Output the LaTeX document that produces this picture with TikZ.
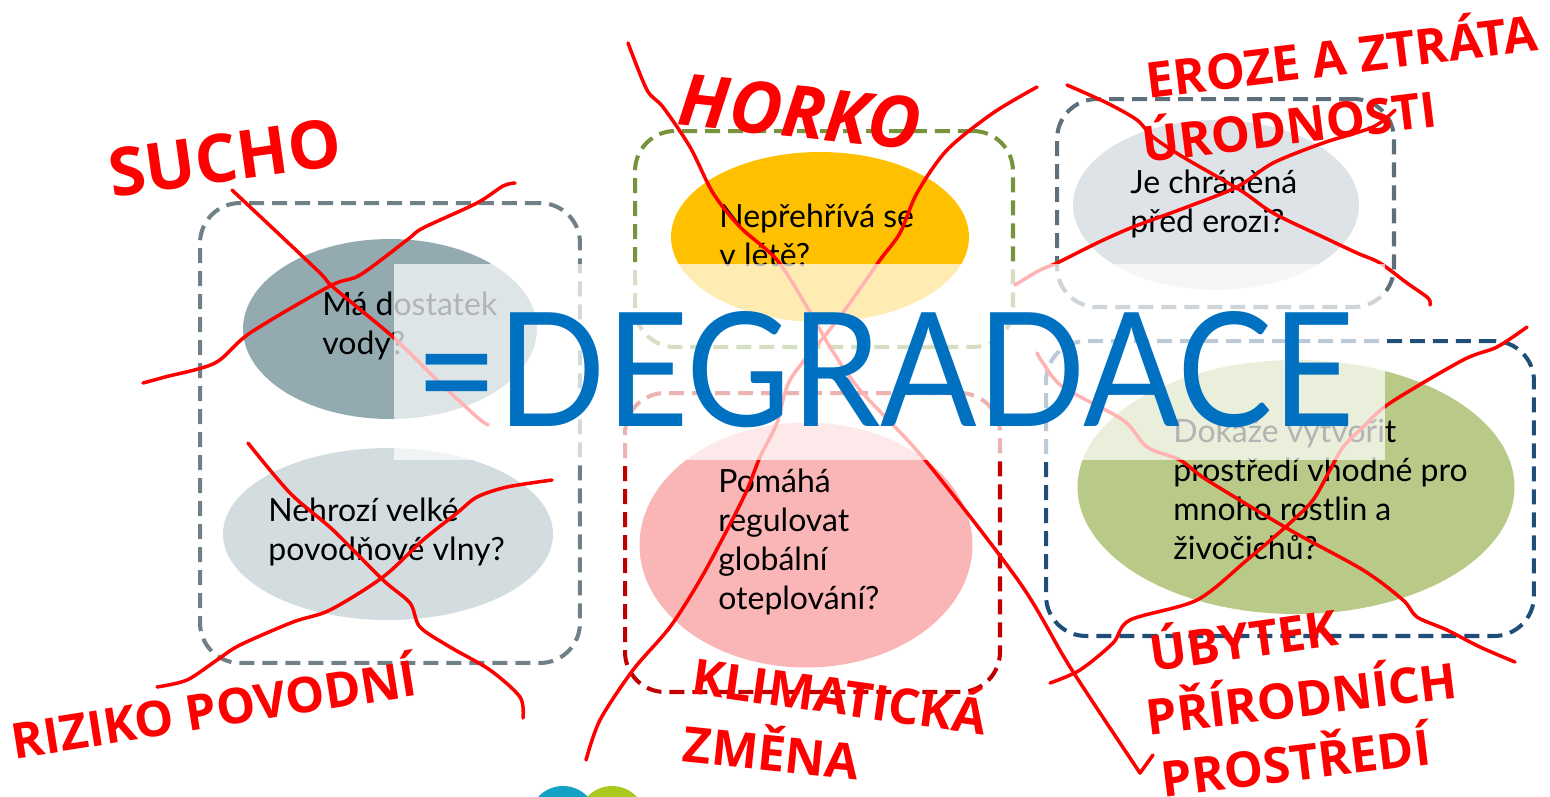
\documentclass[tikz,border=0pt]{standalone}
\usepackage{fontspec}
\usepackage{graphicx}
\setmainfont{Lato}
\newfontfamily\tagfont{Open Sans}
\usetikzlibrary{shapes.geometric}

\definecolor{grayL}{HTML}{6F8087}
\definecolor{grayR}{HTML}{5C6F7B}
\definecolor{oliveB}{HTML}{77933C}
\definecolor{redB}{HTML}{C00000}
\definecolor{navyB}{HTML}{1F4E79}
\definecolor{vodaE}{HTML}{93AAB1}
\definecolor{vlnyE}{HTML}{D3DDE0}
\definecolor{letoE}{HTML}{FFC000}
\definecolor{klimaE}{HTML}{FAB6B6}
\definecolor{erozeE}{HTML}{DDE3E7}
\definecolor{zivotE}{HTML}{B9CA88}
\definecolor{degBlue}{HTML}{0070C0}
\definecolor{logoC}{HTML}{14A1C6}
\definecolor{logoG}{HTML}{A9C91F}

\tikzset{
  qbox/.style={draw=#1, rounded corners=0.8cm, line width=2.3pt, dash pattern=on 0.3cm off 0.16cm, inner sep=0pt, outer sep=0pt},
  blob/.style={ellipse, fill=#1, inner sep=0pt, outer sep=0pt},
  ask/.style={anchor=west, align=left, inner sep=0pt, font=\fontsize{18.2}{22.2}\selectfont},
  xline/.style={draw=red, line width=2pt, line cap=round, line join=round},
  warn/.style={text=red, inner sep=0pt, font=\tagfont\bfseries\fontsize{#1}{#1}\selectfont},
  warn/.default=28
}

\begin{document}
\begin{tikzpicture}[x=0.02cm, y=-0.02cm]
    \useasboundingbox (0,0) rectangle (1550,796);
    % Place boxes
    \node [qbox=grayL, minimum width=7.6cm, minimum height=9.2cm] (boxL) at (390,433) {};
    \node [qbox=oliveB, minimum width=7.56cm, minimum height=4.32cm] (boxH) at (824,239) {};
    \node [qbox=redB, minimum width=7.5cm, minimum height=5.98cm] (boxK) at (812.5,542.5) {};
    \node [qbox=grayR, minimum width=6.74cm, minimum height=4.16cm] (boxE) at (1225.5,203) {};
    \node [qbox=navyB, minimum width=9.76cm, minimum height=5.9cm] (boxU) at (1290,488.5) {};
    % Place ellipses
    \node [blob=vodaE, minimum width=5.88cm, minimum height=3.6cm] (voda) at (390,329) {};
    \node [blob=vlnyE, minimum width=6.6cm, minimum height=3.44cm] (vlny) at (388,534) {};
    \node [blob=letoE, minimum width=5.96cm, minimum height=3.4cm] (leto) at (820,237) {};
    \node [blob=klimaE, minimum width=6.66cm, minimum height=4.9cm] (klima) at (806,545) {};
    \node [blob=erozeE, minimum width=5.72cm, minimum height=3.4cm] (eroze) at (1216,205) {};
    \node [blob=zivotE, minimum width=8.74cm, minimum height=5.08cm] (zivot) at (1296,487) {};
    % Questions
    \node [ask] (vodaQ) at (322,326) {Má dostatek\\vody?};
    \node [ask] (vlnyQ) at (268,532) {Nehrozí velké\\povodňové vlny?};
    \node [ask] (letoQ) at (719,235) {Nepřehřívá se\\v létě?};
    \node [ask] (klimaQ) at (718,542) {Pomáhá\\regulovat\\globální\\oteplování?};
    \node [ask] (erozeQ) at (1130,204) {Je chráněná\\před erozi?};
    \node [ask] (zivotQ) at (1173,489) {Dokaže vytvořit\\prostředí vhodné pro\\mnoho rostlin a\\živočichů?};
    % Red crosses
    \draw [xline] plot [smooth, tension=0.5] coordinates {(232,190) (317,270) (333,287) (393,337) (440,383) (477,417) (488,425)};
    \draw [xline] plot [smooth, tension=0.5] coordinates {(143,383) (165,377) (215,363) (250,333) (330,286) (360,275) (407,240) (423,228) (477,203) (503,186) (515,183)};
    \draw [xline] plot [smooth, tension=0.5] coordinates {(248,443) (290,493) (333,530) (383,580) (410,603) (420,627) (450,647) (490,670) (520,697) (523,718)};
    \draw [xline] plot [smooth, tension=0.5] coordinates {(552,480) (507,487) (477,497) (457,513) (423,540) (383,577) (330,610) (293,622) (240,645) (217,660) (187,680) (157,687)};
    \draw [xline] plot [smooth, tension=0.5] coordinates {(628,43) (647,90) (663,107) (690,147) (713,193) (740,227) (777,260) (807,307) (830,347) (860,390) (925,460) (1020,583) (1070,667) (1140,773)} -- (1153,755);
    \draw [xline] plot [smooth, tension=0.5] coordinates {(586,760) (600,720) (633,670) (670,627) (700,580) (727,530) (747,490) (760,457) (777,423) (790,380) (827,333) (847,307) (880,260) (900,233) (917,193) (947,150) (993,113) (1037,87)};
    \draw [xline] plot [smooth, tension=0.5] coordinates {(1067,85) (1107,103) (1137,120) (1153,137) (1183,157) (1240,190) (1273,213) (1323,237) (1357,253) (1380,263) (1407,283) (1428,298) (1430,305)};
    \draw [xline] plot [smooth, tension=0.5] coordinates {(1395,110) (1373,127) (1323,143) (1273,163) (1237,187) (1187,207) (1133,227) (1097,243) (1057,263) (1040,270) (1015,285)};
    \draw [xline] plot [smooth, tension=0.5] coordinates {(1037,353) (1043,363) (1063,387) (1123,420) (1147,447) (1180,460) (1207,480) (1290,530) (1363,570) (1403,600) (1417,617) (1447,630) (1480,647) (1515,662)};
    \draw [xline] plot [smooth, tension=0.5] coordinates {(1527,327) (1497,347) (1463,360) (1390,403) (1363,427) (1343,447) (1330,470) (1313,500) (1290,523) (1247,560) (1197,600) (1130,620) (1113,643) (1080,670) (1050,683)};
    % Red labels
    \node [warn=38, rotate=8] (sucho) at (225,158) {SUCHO};
    \node [warn=41, rotate=-6] (horko) at (800,112) {\itshape HORKO};
    \node [warn, rotate=7] (ztrata) at (1341,52) {EROZE A ZTRÁTA};
    \node [warn, rotate=7] (urod) at (1289,122) {ÚRODNOSTI};
    \node [warn, rotate=9] (riziko) at (213,705) {RIZIKO POVODNÍ};
    \node [warn, rotate=-8] (klimat) at (840,692) {KLIMATICKÁ};
    \node [warn, rotate=-6] (zmena) at (772,748) {ZMĚNA};
    \node [warn, rotate=8] (ubytek) at (1243,636) {ÚBYTEK};
    \node [warn, rotate=7] (prirod) at (1301,694) {PŘÍRODNÍCH};
    \node [warn, rotate=7] (prostr) at (1295,758) {PROSTŘEDÍ};
    % Veil and headline
    \fill [white, opacity=0.7] (394,264) rectangle (1385,460);
    \node [text=degBlue, inner sep=0pt] (degr) at (885,370) {\resizebox{18.8cm}{2.3cm}{=DEGRADACE}};
    % Logo
    \fill [logoC] (563,820) circle [radius=0.68cm];
    \fill [logoG] (612,820) circle [radius=0.68cm];
\end{tikzpicture}
\end{document}
